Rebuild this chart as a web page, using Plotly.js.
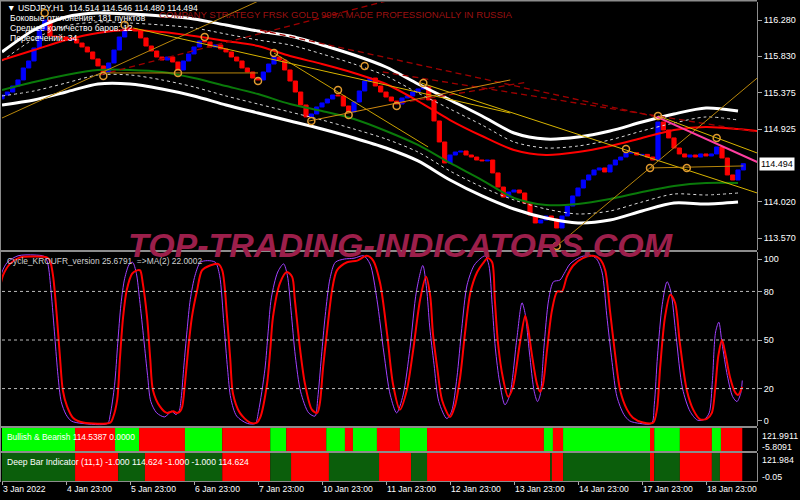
<!DOCTYPE html>
<html><head><meta charset="utf-8">
<script src="https://cdn.plot.ly/plotly-3.0.1.min.js"></script>
<style>html,body{margin:0;padding:0;background:#000;}#chart{width:800px;height:500px;}</style>
</head><body><div id="chart"></div>
<script>
// ---------- DATA ----------
// H1 candles (every second hour), closes
const closes = [115.348,115.385,115.460,115.535,115.684,115.771,115.932,116.156,116.280,116.081,
116.075,116.069,116.032,116.044,115.994,115.945,115.883,115.796,115.709,115.634,
115.746,115.907,116.069,116.181,116.170,116.144,116.057,115.957,115.895,115.820,
115.783,115.820,115.758,115.659,115.771,115.858,115.945,116.019,116.007,115.945,
115.970,115.920,115.883,115.820,115.771,115.684,115.634,115.559,115.535,115.634,
115.733,115.820,115.783,115.659,115.522,115.385,115.224,115.075,115.112,115.199,
115.249,115.298,115.348,115.336,115.211,115.137,115.261,115.398,115.522,115.559,
115.460,115.385,115.323,115.273,115.236,115.311,115.336,115.385,115.423,115.448,
115.286,115.025,114.764,114.503,114.602,114.639,114.652,114.602,114.577,114.540,
114.528,114.540,114.379,114.204,114.080,114.142,114.167,114.130,114.005,113.856,
113.757,113.794,113.844,113.807,113.695,113.844,113.968,114.093,114.192,114.291,
114.354,114.416,114.441,114.391,114.478,114.540,114.577,114.627,114.630,114.602,
114.610,114.577,114.540,115.012,114.913,114.814,114.689,114.615,114.577,114.602,
114.577,114.615,114.590,114.615,114.702,114.565,114.354,114.291,114.416,114.494];
const firstOpen = 115.300;

// envelope / moving averages (sampled every 6 candles)
const bandK = [0,6,12,18,24,30,36,42,48,54,60,66,72,78,84,90,96,102,108,114,120,126,132,138];
const upperOuter = [115.883,116.156,116.318,116.367,116.355,116.330,116.293,116.218,116.144,116.081,115.970,115.845,115.696,115.485,115.286,115.087,114.876,114.801,114.826,114.901,115.012,115.112,115.186,115.149];
const upperInner = [115.771,116.044,116.206,116.256,116.243,116.218,116.181,116.106,116.032,115.970,115.858,115.733,115.584,115.373,115.174,114.975,114.764,114.689,114.714,114.789,114.901,115.000,115.075,115.037];
const redK = [0,6,12,18,24,30,36,42,48,54,60,66,72,78,84,90,96,102,108,114,120,126,132,138,141.6];
const redMA = [115.783,115.907,116.032,116.119,116.156,116.131,116.081,116.019,115.957,115.833,115.733,115.622,115.485,115.273,115.037,114.838,114.664,114.602,114.639,114.714,114.814,114.913,114.950,114.925,114.901];
const greenMA = [115.410,115.510,115.597,115.659,115.659,115.634,115.559,115.460,115.360,115.236,115.149,115.050,114.901,114.727,114.503,114.291,114.068,113.981,113.993,114.055,114.142,114.217,114.254,114.254];
const lowerInner = [115.336,115.398,115.497,115.597,115.597,115.535,115.448,115.336,115.236,115.137,115.037,114.925,114.801,114.639,114.403,114.204,114.043,113.931,113.869,113.906,114.018,114.117,114.105,114.130];
const lowerOuter = [115.224,115.286,115.385,115.485,115.485,115.423,115.336,115.224,115.124,115.025,114.925,114.814,114.689,114.528,114.291,114.093,113.931,113.819,113.757,113.794,113.906,114.005,113.993,114.018];

// zigzag pivots
const zzK = [8,19,23,33,38,48,51,58,63,65,68,74,79,104,117,121.5,123,128.4,134];
const zzP = [116.367,115.584,116.218,115.622,116.069,115.522,115.870,115.025,115.410,115.099,115.709,115.211,115.497,113.471,114.677,114.441,115.087,114.441,114.814];

// trend lines
const lineK = [[0,48.5],[19,48],[24.6,95.3],[78.6,141.6],[51,79.9],[57.6,95.3],[104,141.6],[121.5,139],[123,141.6]];
const lineP = [[115.062,116.529],[115.622,115.622],[116.181,115.124],[115.497,114.130],[115.870,114.702],[115.025,115.535],[113.471,115.559],[114.441,114.466],[115.087,114.627]];
const pinkK = [122.8,141.6];
const pinkP = [115.075,114.515];
const dashK = [[18.4,72.8],[48.4,122.8],[71.4,141.6],[74.6,98.6]];
const dashP = [[115.597,116.529],[116.156,115.075],[115.634,114.888],[115.249,115.510]];

// oscillator (Cycle_KROUFR) and its MA(2)
const oscK = [-0.4,0.2,1.5,3.4,6.2,8.4,9.0,9.6,10.3,10.9,11.4,12.2,13.3,15.2,20.3,20.8,21.6,22.1,22.7,23.4,24.4,25.3,25.9,26.4,27.2,27.8,28.3,29.6,30.9,32.1,32.8,33.4,33.8,34.3,34.9,35.6,36.6,37.5,39.0,40.5,41.3,42.2,42.8,43.3,44.6,46.5,47.8,48.4,49.7,50.3,50.8,52.1,53.4,54.4,54.9,55.9,56.8,58.1,59.1,59.6,60.2,60.9,61.9,62.8,64.7,66.6,68.4,69.6,70.9,72.2,73.3,74.6,75.9,77.1,78.4,79.5,80.3,80.8,81.6,82.5,84.0,84.9,85.9,86.8,87.8,89.1,90.2,91.1,91.9,92.4,93.0,93.9,94.9,95.8,97.1,98.1,98.6,99.4,100.3,100.9,101.4,102.2,103.1,104.1,105.0,105.9,107.1,108.9,110.8,112.1,113.1,114.0,115.0,115.9,117.2,118.3,120.2,122.1,122.8,123.4,124.3,125.3,126.2,127.1,128.4,129.6,130.9,132.2,133.1,133.7,134.3,135.0,135.6,136.5,137.4,138.0,138.8];
const oscMA = [82,90,97,101,101.5,101,99,89,64,38,19,9,2,-1,-1,2,13,38,64,81,91,93,93,85,64,38,19,9,5,6,5,6,9,23,44,64,81,93,96,97,93,64,38,17,5,-1,-1,2,23,44,64,85,92,89,75,44,23,7,5,11,33,54,81,93,98,99,102,99,85,54,23,7,19,44,75,89,77,54,33,13,2.5,9,27,54,79,92,97.5,100.6,98,75,48,27,15,21,48,65,58,40,23,18,22,44,68,80,80,89,96,100.6,102,100,93,68,40,19,7,2,-1,-1,7,33,64,78,73,48,19,7,1,1.5,5,19,40,50,42,27,18,16,21];
const cycK = [-0.4,0.0,1.0,3.0,6.0,8.0,8.6,9.2,9.9,10.5,11.1,12.0,13.0,15,19.8,20.3,21.1,21.7,22.3,23.0,23.9,24.5,25.2,25.8,26.6,27.3,27.9,29.0,30.5,31.8,32.6,33.2,33.6,34.1,34.7,35.3,36.2,37.2,38.5,40.0,40.8,41.6,42.3,42.9,44.0,46.0,47.5,48.1,49.3,49.9,50.5,51.7,52.8,53.5,54.2,55.0,56.0,57.5,58.7,59.2,59.9,60.6,61.5,62.5,64.2,66.0,67.8,69.0,70.3,71.6,72.8,74.0,75.2,76.5,77.7,78.9,79.6,80.2,81.0,81.9,83.4,84.3,85.3,86.2,87.2,88.5,89.6,90.6,91.3,91.9,92.5,93.3,94.3,95.2,96.5,97.5,98.1,98.9,99.8,100.4,100.9,101.6,102.5,103.4,104.6,105.4,106.5,108.3,110.2,111.5,112.5,113.4,114.4,115.3,116.6,117.7,119.6,121.8,122.3,122.9,123.8,124.7,125.4,126.4,127.6,129.0,130.4,131.7,132.6,133.2,133.8,134.4,135.0,136.0,137.0,137.8,138.5,138.8];
const cycVal = [86,92,98,102,102.5,101.5,97,80,52,28,12,4,0,-1.5,-1.5,4,22,48,72,88,97,98,91,75,50,28,12,5,2.5,6,4,6,14,34,56,75,90,98,99,98,90,60,32,14,3,-1.5,-1.5,6,32,55,76,92,97,90,68,40,18,5,3,14,40,65,88,98,100,100.5,102,97,75,42,16,5,16,45,80,96,82,58,35,12,1.5,6,27,57,84,96,100,102,96,72,45,24,10,16,50,73,66,42,18,12,16,45,75,86,87,91,97,101,102.5,100,92,65,36,15,4,0,-1.5,-1.5,10,40,72,86,80,52,20,6,0.5,1,5,25,55,61,48,28,15,12,17,25];

// Bullish & Bearish / Deep Bar segment states
const bbEdges = [0,13.7,21.2,25.7,34.3,41.3,50.3,53.3,60.8,64.3,65.8,70.3,74.6,79.7,101.6,103.3,105.2,121.5,122.3,127.1,133.1,134.8,138.8];
const bbState = ['G','R','G','R','G','R','G','R','G','R','G','R','G','R','G','R','G','R','G','R','G','R'];
const dbEdges = [0,13.7,21.8,26.8,34.3,41.3,50.3,54.2,61.3,70.7,76.7,79.7,102.8,103.1,105.2,121.5,122.3,127.1,133.1,134.6,138.8];
const dbState = ['G','R','G','R','G','R','G','R','G','R','G','R','G','R','G','R','G','R','G','R'];

// axes labels
const tickK = [0,12,24,36,48,60,72,84,96,108,120,132];
const tickText = ['3 Jan 2022','4 Jan 23:00','5 Jan 23:00','6 Jan 23:00','7 Jan 23:00','10 Jan 23:00','11 Jan 23:00','12 Jan 23:00','13 Jan 23:00','14 Jan 23:00','17 Jan 23:00','18 Jan 23:00'];
const priceTicks = [113.570,114.020,114.925,115.375,115.830,116.280];
const oscTicks = [0,20,50,80,100];
const oscLevels = [20,50,80];
const lastPrice = 114.494;

// ---------- BUILD ----------
const FONT = '"Liberation Sans",Arial,sans-serif';
const candleK = closes.map((_, i) => i);
const opens = [firstOpen].concat(closes.slice(0, -1));
const bodyLow = closes.map((c, i) => Math.min(c, opens[i]));
const bodyLen = closes.map((c, i) => Math.abs(c - opens[i]));
const bodyCol = closes.map((c, i) => c >= opens[i] ? '#0000FF' : '#FF0000');

const traces = [];
function line(x, y, color, width, dash, yaxis, shape) {
  traces.push({type:'scatter', mode:'lines', x:x, y:y, xaxis:'x', yaxis:yaxis||'y',
    line:{color:color, width:width, dash:dash||'solid', shape:shape||'linear', smoothing:0.8},
    hoverinfo:'skip', showlegend:false});
}
// bands
line(bandK, upperOuter, '#FFFFFF', 3, 'solid', 'y', 'spline');
line(bandK, upperInner, '#D8D8D8', 1, 'dot', 'y', 'spline');
line(bandK, lowerInner, '#D8D8D8', 1, 'dot', 'y', 'spline');
line(bandK, lowerOuter, '#FFFFFF', 3, 'solid', 'y', 'spline');
line(bandK, greenMA, '#0A7A0A', 2, 'solid', 'y', 'spline');
line(redK, redMA, '#FF0000', 2, 'solid', 'y', 'spline');
// dashed dark red lines
dashK.forEach((k, i) => line(k, dashP[i], '#A00000', 1.3, '6px,4px'));
// trend lines
const lineColors = ['#B8860B','#B8860B','#D8B400','#D8B400','#C9A100','#D08A10','#B8860B','#B8860B','#D8B400'];
lineK.forEach((k, i) => line(k, lineP[i], lineColors[i], 1));
line(pinkK, pinkP, '#FF3FA0', 2);
// candle bodies
traces.push({type:'bar', x:candleK, base:bodyLow, y:bodyLen, width:0.78,
  xaxis:'x', yaxis:'y', marker:{color:bodyCol, line:{color:bodyCol, width:1}},
  hoverinfo:'skip', showlegend:false});
// zigzag pivots
traces.push({type:'scatter', mode:'markers', x:zzK, y:zzP, xaxis:'x', yaxis:'y',
  marker:{symbol:'circle-open', size:7, color:'#E09A30', line:{width:1.5, color:'#E09A30'}},
  hoverinfo:'skip', showlegend:false});
// oscillator
line(cycK, cycVal, '#A040FF', 1, 'solid', 'y2', 'spline');
line(oscK, oscMA, '#FF0000', 2, 'solid', 'y2', 'spline');
// segment panels
function segTrace(edges, states, colors, yaxis) {
  const base = [], len = [], col = [];
  for (let i = 0; i < states.length; i++) {
    base.push(edges[i]); len.push(edges[i+1] - edges[i]); col.push(colors[states[i]]);
  }
  traces.push({type:'bar', orientation:'h', y:base.map(() => 0), base:base, x:len, width:1,
    xaxis:'x', yaxis:yaxis, marker:{color:col, line:{width:0}}, hoverinfo:'skip', showlegend:false});
}
segTrace(bbEdges, bbState, {G:'#00FF00', R:'#FF0000'}, 'y3');
segTrace(dbEdges, dbState, {G:'#0B5E0B', R:'#FF0000'}, 'y4');

// shapes
const shapes = [];
[0.48125, 0.1146, 0.0625].forEach(y => shapes.push({type:'line', xref:'paper', yref:'paper', x0:-0.003, x1:1, y0:y, y1:y, line:{color:'#8C8C8C', width:2}}));
shapes.push({type:'line', xref:'paper', yref:'paper', x0:-0.003, x1:1, y0:1.003, y1:1.003, line:{color:'#8C8C8C', width:2}});
shapes.push({type:'line', xref:'paper', yref:'paper', x0:-0.002, x1:-0.002, y0:0, y1:1.004, line:{color:'#8C8C8C', width:1}});
oscLevels.forEach(v => shapes.push({type:'line', xref:'paper', yref:'y2', x0:0, x1:1, y0:v, y1:v, line:{color:'#BBBBBB', width:1, dash:'dot'}}));

const sp = '\u00a0';
function txt(t, x, y, color, size, extra) {
  return Object.assign({text:t, xref:'paper', yref:'paper', x:x, y:y, xanchor:'left', yanchor:'middle',
    showarrow:false, font:{family:FONT, size:size, color:color}}, extra||{});
}
const annotations = [
  txt('▼' + sp + 'USDJPY,H1' + sp + sp + '114.514 114.546 114.480 114.494', 0.004, 0.9875, '#FFFFFF', 8.6),
  txt('Боковые отклонения: 181 пунктов', 0.008, 0.9667, '#FFFFFF', 8.6),
  txt('Среднее количество баров: 12', 0.008, 0.9458, '#FFFFFF', 8.6),
  txt('Пересечений: 34', 0.008, 0.925, '#FFFFFF', 8.6),
  txt('COMPANY STRATEGY FRSK GOLD 999A MADE PROFESSIONALLY IN RUSSIA', 0.2053, 0.975, '#9B1111', 9.6),
  txt('Cycle_KROUFR_version 25.6791' + sp + sp + '=>MA(2) 22.0002', 0.004, 0.4604, '#D0D0D0', 8.4),
  txt('Bullish &amp; Bearish 114.5387 0.0000', 0.004, 0.0938, '#FFFFFF', 8.4),
  txt('Deep Bar Indicator (11,1) -1.000 114.624 -1.000 -1.000 114.624', 0.004, 0.0417, '#FFFFFF', 8.6),
  txt('121.9911', 1.004, 0.0958, '#FFFFFF', 8.8),
  txt('-5.8091', 1.004, 0.0729, '#FFFFFF', 8.8),
  txt('121.984', 1.004, 0.0458, '#FFFFFF', 8.8),
  txt('-0.05', 1.004, 0.0104, '#FFFFFF', 8.8),
  {text:'<b><i>TOP-TRADING-INDICATORS.COM</i></b>', xref:'paper', yref:'paper', x:0.528, y:0.494,
   xanchor:'center', yanchor:'middle', showarrow:false,
   font:{family:FONT, size:34, color:'#9C1F4B'}},
  {text:lastPrice.toFixed(3), xref:'paper', yref:'y', x:1.003, y:lastPrice, xanchor:'left', yanchor:'middle',
   showarrow:false, bgcolor:'#FFFFFF', borderpad:1, font:{family:FONT, size:9, color:'#000000'}}
];

const axisFont = {family:FONT, size:9, color:'#FFFFFF'};
const yBase = {side:'right', anchor:'x', showgrid:false, zeroline:false, ticks:'outside', ticklen:4,
  tickcolor:'#AAAAAA', tickfont:axisFont, showline:true, linecolor:'#8C8C8C', linewidth:1, fixedrange:true};
const layout = {
  width:800, height:500, paper_bgcolor:'#000000', plot_bgcolor:'#000000',
  margin:{l:2, r:43, t:2, b:18}, showlegend:false, barmode:'overlay',
  xaxis:{domain:[0,1], range:[0,141.56], anchor:'y4', showgrid:false, zeroline:false,
    tickmode:'array', tickvals:tickK, ticktext:tickText, ticks:'outside', ticklen:3, tickcolor:'#AAAAAA',
    tickangle:0, ticklabelposition:'outside right', tickfont:{family:FONT, size:8.6, color:'#FFFFFF'},
    showline:true, linecolor:'#8C8C8C', linewidth:1, automargin:false, fixedrange:true},
  yaxis: Object.assign({}, yBase, {domain:[0.4833,1], range:[113.421,116.504], tickmode:'array', tickvals:priceTicks, tickformat:'.3f'}),
  yaxis2: Object.assign({}, yBase, {domain:[0.1167,0.479], range:[-3.09,104.3], tickmode:'array', tickvals:oscTicks}),
  yaxis3: Object.assign({}, yBase, {domain:[0.0646,0.1125], range:[-0.5,0.5], showticklabels:false, ticks:''}),
  yaxis4: Object.assign({}, yBase, {domain:[0.002,0.0604], range:[-0.5,0.5], showticklabels:false, ticks:''}),
  shapes:shapes, annotations:annotations
};
Plotly.newPlot('chart', traces, layout, {staticPlot:true, displayModeBar:false});
</script></body></html>
